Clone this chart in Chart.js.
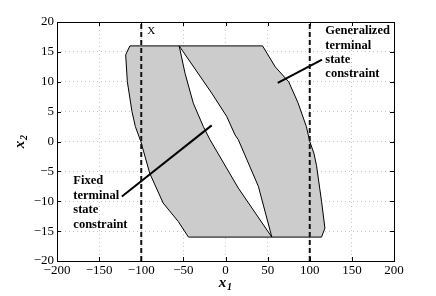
<!DOCTYPE html>
<html>
<head>
<meta charset="utf-8">
<script src="https://cdn.jsdelivr.net/npm/chart.js@4/dist/chart.umd.min.js"></script>
<style>
  html, body { margin: 0; padding: 0; background: #fff; }
  #wrap { width: 436px; height: 296px; }
</style>
</head>
<body>
<div id="wrap"><canvas id="myChart" width="436" height="296"></canvas></div>
<script>
// data
const xTicks = [-200, -150, -100, -50, 0, 50, 100, 150, 200];
const yTicks = [-20, -15, -10, -5, 0, 5, 10, 15, 20];

// outer region (generalized terminal state constraint)
const outerX = [-113.5, 44, 59, 75, 86, 96, 100, 105, 108, 114, 118, 114, -44, -56, -74, -90, -100.5, -107, -111, -116.5, -118.5, -113.5];
const outerY = [16, 16, 12.5, 10, 6.5, 2.5, 0, -2, -4, -10, -14.5, -16, -16, -13.4, -10.3, -5.3, 0, 2.5, 5, 10, 14.5, 16];

// white sliver (fixed terminal state constraint excluded)
const holeX = [-55, -16.4, 1.4, 11.3, 15.2, 39, 55, 15.2, -18.4, -26.3, -38.2, -48, -55];
const holeY = [16, 8.1, 4.2, 1.1, 0.3, -7.5, -16, -7.8, 0.3, 2.5, 6.4, 11.4, 16];

// state bounds (dashed)
const boundX = [-100, 100];

// pointer lines
const genPointer = { x: [62, 114.6], y: [9.8, 13.7] };
const fixPointer = { x: [-123, -16.4], y: [-9.2, 2.7] };

// annotation texts
const genLines = ['Generalized', 'terminal', 'state', 'constraint'];
const fixLines = ['Fixed', 'terminal', 'state', 'constraint'];

const serif = "'Liberation Serif', 'Times New Roman', serif";
Chart.defaults.font.family = serif;

function toPoints(xs, ys) {
    return xs.map((x, i) => ({ x: x, y: ys[i] }));
}

function fmt(v) {
    return v < 0 ? '\u2212' + Math.abs(v) : String(v);
}

const lineBase = { showLine: true, pointRadius: 0, pointHoverRadius: 0, tension: 0 };

const datasets = [];
// dashed bounds on top
boundX.forEach(bx => {
    datasets.push(Object.assign({}, lineBase, {
        data: [{ x: bx, y: -20 }, { x: bx, y: 20 }],
        borderColor: '#111', borderWidth: 2, borderDash: [5, 3], fill: false
    }));
});
datasets.push(Object.assign({}, lineBase, {
    data: toPoints(genPointer.x, genPointer.y), borderColor: '#000', borderWidth: 2, fill: false
}));
datasets.push(Object.assign({}, lineBase, {
    data: toPoints(fixPointer.x, fixPointer.y), borderColor: '#000', borderWidth: 2, fill: false
}));
datasets.push(Object.assign({}, lineBase, {
    data: toPoints(holeX, holeY), borderColor: '#000', borderWidth: 1,
    backgroundColor: '#ffffff', fill: 'shape'
}));
datasets.push(Object.assign({}, lineBase, {
    data: toPoints(outerX, outerY), borderColor: '#000', borderWidth: 1,
    backgroundColor: '#cccccc', fill: 'shape'
}));

// box, inward ticks, labels
const decor = {
    id: 'decor',
    afterDatasetsDraw(chart) {
        const ctx = chart.ctx;
        const a = chart.chartArea;
        const sx = chart.scales.x, sy = chart.scales.y;
        ctx.save();
        ctx.strokeStyle = '#000';
        ctx.lineWidth = 1;
        ctx.strokeRect(Math.round(a.left) + 0.5, Math.round(a.top) + 0.5,
            Math.round(a.right - a.left), Math.round(a.bottom - a.top));
        const tl = 4;
        ctx.beginPath();
        xTicks.forEach(v => {
            const px = Math.round(sx.getPixelForValue(v)) + 0.5;
            ctx.moveTo(px, a.bottom); ctx.lineTo(px, a.bottom - tl);
            ctx.moveTo(px, a.top); ctx.lineTo(px, a.top + tl);
        });
        yTicks.forEach(v => {
            const py = Math.round(sy.getPixelForValue(v)) + 0.5;
            ctx.moveTo(a.left, py); ctx.lineTo(a.left + tl, py);
            ctx.moveTo(a.right, py); ctx.lineTo(a.right - tl, py);
        });
        ctx.stroke();

        // annotations
        ctx.fillStyle = '#000';
        ctx.font = 'bold 12.5px ' + serif;
        ctx.textBaseline = 'middle';
        ctx.textAlign = 'left';
        genLines.forEach((t, i) => {
            ctx.fillText(t, sx.getPixelForValue(118.5), sy.getPixelForValue(18.5) + i * 14.4);
        });
        fixLines.forEach((t, i) => {
            ctx.fillText(t, sx.getPixelForValue(-180.6), sy.getPixelForValue(-6.6) + i * 14.6);
        });

        // X mark at the bound
        ctx.font = '11px ' + serif;
        ctx.fillText('X', sx.getPixelForValue(-93), sy.getPixelForValue(18.5));

        // axis titles
        const bx = (a.left + a.right) / 2;
        ctx.font = 'italic bold 15px ' + serif;
        ctx.textAlign = 'center';
        ctx.fillText('x', bx - 3, 283);
        ctx.font = 'italic bold 10px ' + serif;
        ctx.fillText('1', bx + 4, 287);

        ctx.translate(20, (a.top + a.bottom) / 2);
        ctx.rotate(-Math.PI / 2);
        ctx.font = 'italic bold 15px ' + serif;
        ctx.fillText('x', -3, 0);
        ctx.font = 'italic bold 10px ' + serif;
        ctx.fillText('2', 4, 4);
        ctx.restore();
    }
};

const gridCfg = { color: '#c4c4c4', lineWidth: 1, drawTicks: false };
const borderCfg = { display: false, dash: [1, 3] };

new Chart(document.getElementById('myChart').getContext('2d'), {
    type: 'scatter',
    data: { datasets: datasets },
    options: {
        responsive: false,
        animation: false,
        events: [],
        layout: { padding: { top: 22, right: 42, left: 0, bottom: 0 } },
        plugins: { legend: { display: false }, tooltip: { enabled: false } },
        scales: {
            x: {
                type: 'linear', min: -200, max: 200,
                afterFit: s => { s.height = 35; },
                afterBuildTicks: s => { s.ticks = xTicks.map(v => ({ value: v })); },
                ticks: { callback: fmt, color: '#000', padding: 2, maxRotation: 0, autoSkip: false,
                    font: { family: serif, size: 13 } },
                grid: gridCfg, border: borderCfg
            },
            y: {
                type: 'linear', min: -20, max: 20,
                afterFit: s => { s.width = 57; },
                afterBuildTicks: s => { s.ticks = yTicks.map(v => ({ value: v })); },
                ticks: { callback: fmt, color: '#000', padding: 3, autoSkip: false,
                    font: { family: serif, size: 13 } },
                grid: gridCfg, border: borderCfg
            }
        }
    },
    plugins: [decor]
});
</script>
</body>
</html>
